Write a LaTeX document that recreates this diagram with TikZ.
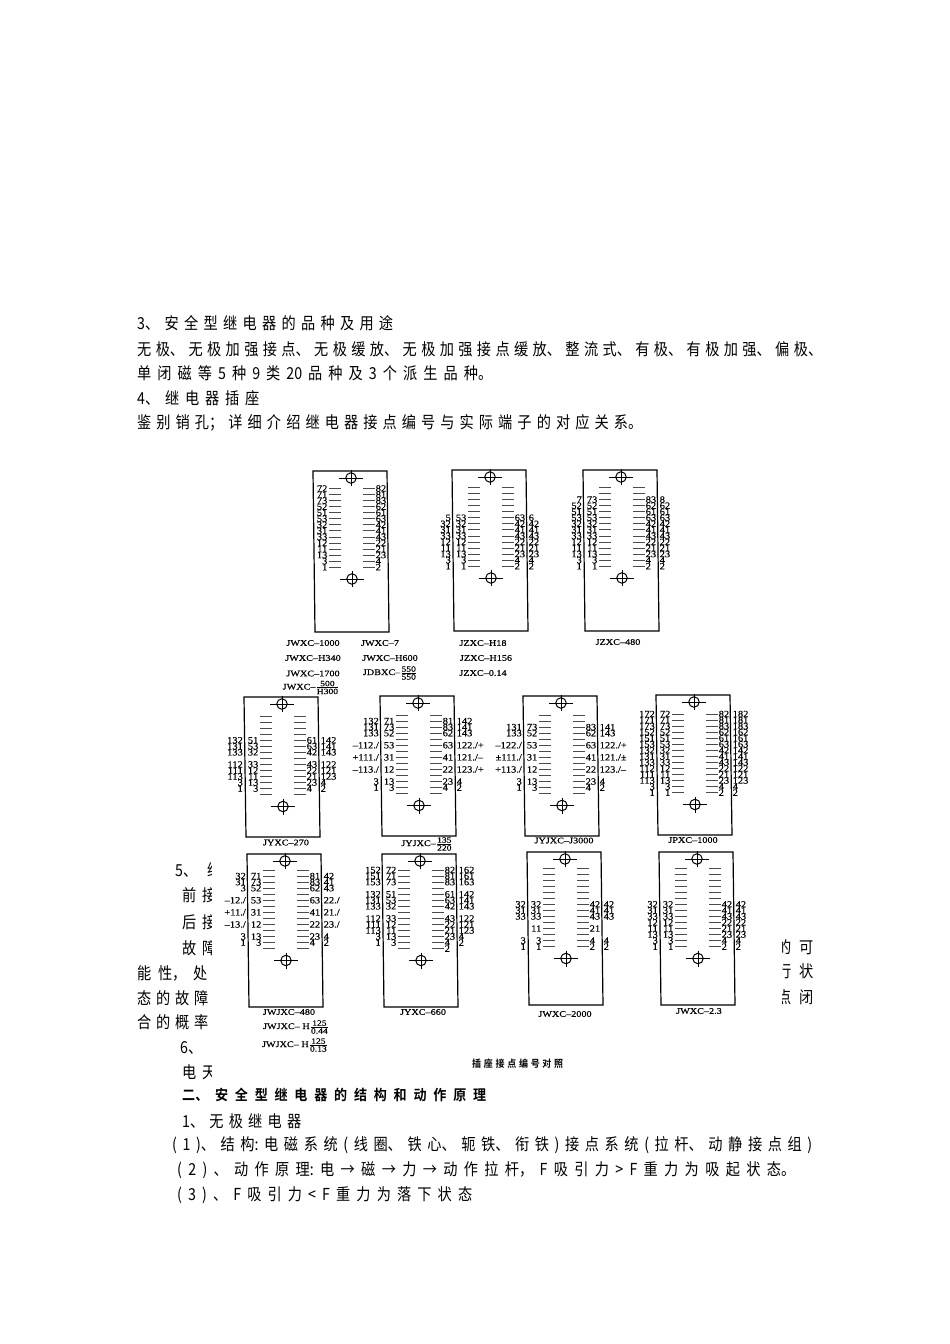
\documentclass[tikz,border=0pt]{standalone}
\usepackage{fontspec}
\usepackage{amsmath}
\setmainfont{Liberation Serif}
\newfontfamily\bodyfont[FakeStretch=0.86]{Noto Sans CJK SC}
\newfontfamily\boldfont[FakeStretch=0.9,BoldFont={Noto Sans CJK SC Bold}]{Noto Sans CJK SC}
\newfontfamily\capfont[FakeStretch=1.2,FakeBold=0.4]{Liberation Serif}
\newfontfamily\pinfont[FakeStretch=1.1,FakeBold=0.2]{Liberation Serif}
\usetikzlibrary{positioning}
\tikzset{%
  every pinhole/.style={
    circle,
    draw,
    line width=1pt,
    inner sep=0pt,
    minimum size=10.5pt
  },
  slot/.style={line width=0.75pt, black!70},
  cross/.style={line width=1pt},
  body line/.style={
    anchor=west,
    inner sep=0pt,
    font=\bodyfont\fontsize{16.5}{18}\selectfont
  },
  pin label/.style={
    inner sep=0pt,
    font=\pinfont\fontsize{9.5}{9.5}\selectfont
  },
  socket name/.style={
    inner sep=0pt,
    font=\capfont\fontsize{8.5}{9}\selectfont
  },
}
% one text line pressed out to the width it has on the page
\newcommand{\fitline}[2]{\parbox{#1pt}{\parfillskip=0pt \tolerance=10000 \hbadness=10000 \XeTeXlinebreaklocale "zh" \XeTeXlinebreakskip=0pt plus 1fil #2}}
\newcommand{\gp}{\hskip 0pt plus 1fil\relax}
\newcommand{\fracrow}[1]{\mbox{\capfont\fontsize{8}{8}\selectfont\rule[-0.8pt]{0pt}{6.8pt}#1}}
\newcommand{\sockfrac}[2]{${\fracrow{#1}\over\fracrow{#2}}$}
\def\rowtop{17.5}
\def\sockh{161}
% name, x, y, inner left, inner right, outer left, outer right
\newcommand{\socket}[7]{%
  \begin{scope}[shift={(#2,#3)}]
    \draw[line width=1.2pt] (0,0) -- (74,0) -- (76,\sockh) -- (2,\sockh) -- cycle;
    \node[every pinhole] (#1top) at (38,7) {};
    \node[every pinhole] (#1bot) at (39,\rowtop+90.5) {};
    \draw[cross] (#1top.center) +(-12,0) -- +(12,0) (#1top.center) +(0,-8) -- +(0,8);
    \draw[cross] (#1bot.center) +(-12,0) -- +(12,0) (#1bot.center) +(0,-8) -- +(0,8);
    \foreach \rw in {0,...,13} {
      \draw[slot] (16,\rowtop+6.05*\rw) -- (28,\rowtop+6.05*\rw);
      \draw[slot] (50,\rowtop+6.05*\rw) -- (62,\rowtop+6.05*\rw);
    }
    \foreach \rw/\lb in {#4} \node[pin label,anchor=east] (#1a\rw) at (14.5,\rowtop+6.05*\rw) {\lb};
    \foreach \rw/\lb in {#5} \node[pin label,anchor=west] (#1b\rw) at (62.5,\rowtop+6.05*\rw) {\lb};
    \foreach \rw/\lb in {#6} \node[pin label,anchor=east] (#1c\rw) at (-1,\rowtop+6.05*\rw) {\lb};
    \foreach \rw/\lb in {#7} \node[pin label,anchor=west] (#1d\rw) at (76.5,\rowtop+6.05*\rw) {\lb};
  \end{scope}
}

\begin{document}
\begin{tikzpicture}[x=1pt,y=-1pt]
\useasboundingbox (0,0) rectangle (950,1344);

% text above the figure
\node[body line] (ta) at (137,323) {\fitline{256}{3、\gp 安全型继电器的品种及用途}};
\node[body line] (tb) at (137,349) {\fitline{685}{无极、无极加强接点、无极缓放、无极加强接点缓放、整流式、有极、有极加强、偏极、}};
\node[body line] (tc) at (137,373) {\fitline{355}{单闭磁等\gp 5\gp 种\gp 9\gp 类\gp 20\gp 品种及\gp 3\gp 个派生品种。}};
\node[body line] (td) at (137,398) {\fitline{122}{4、\gp 继电器插座}};
\node[body line] (te) at (137,423) {\fitline{505}{鉴别销孔；详细介绍继电器接点编号与实际端子的对应关系。}};

% text showing at the sides of the figure
\begin{scope}
  \clip (130,855) rectangle (211,1085);
  \node[body line] (la) at (175,870) {\fitline{46}{5、\gp 继}};
  \node[body line] (lb) at (182,895) {\fitline{34}{前接}};
  \node[body line] (lc) at (182,922) {\fitline{34}{后接}};
  \node[body line] (ld) at (182,948) {\fitline{34}{故障}};
  \node[body line] (le) at (137,973) {\fitline{70}{能性，处}};
  \node[body line] (lf) at (137,998) {\fitline{71}{态的故障}};
  \node[body line] (lg) at (137,1022) {\fitline{71}{合的概率}};
  \node[body line] (lh) at (180,1048) {6、};
  \node[body line] (li) at (182,1072) {\fitline{34}{电天}};
\end{scope}
\begin{scope}
  \clip (782,930) rectangle (830,1020);
  \node[body line] (ra) at (777,947) {\fitline{36}{的可}};
  \node[body line] (rb) at (777,971) {\fitline{36}{行状}};
  \node[body line] (rc) at (777,997) {\fitline{36}{点闭}};
\end{scope}

% first row
\socket{sa}{313}{471}
  {0/72,1/71,2/73,3/52,4/51,5/53,6/32,7/31,8/33,9/12,10/11,11/13,12/3,13/1}
  {0/82,1/81,2/83,3/62,4/61,5/63,6/42,7/41,8/43,9/22,10/21,11/23,12/4,13/2}
  {}{}
\socket{sb}{452}{470}
  {5/53,6/32,7/31,8/33,9/12,10/11,11/13,12/3,13/1}
  {5/63,6/42,7/41,8/43,9/22,10/21,11/23,12/4,13/2}
  {5/5,6/32,7/31,8/33,9/12,10/11,11/13,12/3,13/1}
  {5/6,6/42,7/41,8/43,9/22,10/21,11/23,12/4,13/2}
\socket{sc}{583}{470}
  {2/73,3/52,4/51,5/53,6/32,7/31,8/33,9/12,10/11,11/13,12/3,13/1}
  {2/83,3/62,4/61,5/63,6/42,7/41,8/43,9/22,10/21,11/23,12/4,13/2}
  {2/7,3/52,4/51,5/53,6/32,7/31,8/33,9/12,10/11,11/13,12/3,13/1}
  {2/8,3/62,4/61,5/63,6/42,7/41,8/43,9/22,10/21,11/23,12/4,13/2}

% second row
\def\rowtop{19}
\def\sockh{140}
\socket{sd}{244}{697}
  {4/51,5/53,6/32,8/33,9/12,10/11,11/13,12/3}
  {4/61,5/63,6/42,8/43,9/22,10/21,11/23,12/4}
  {4/132,5/131,6/133,8/112,9/111,10/113,11/3,12/1}
  {4/142,5/141,6/143,8/122,9/121,10/123,11/4,12/2}
\socket{se}{380}{696}
  {1/71,2/73,3/52,5/53,7/31,9/12,11/13,12/3}
  {1/81,2/83,3/62,5/63,7/41,9/22,11/23,12/4}
  {1/132,2/131,3/133,5/{–112./},7/{+111./},9/{–113./},11/3,12/1}
  {1/142,2/141,3/143,5/{122./+},7/{121./–},9/{123./+},11/4,12/2}
\socket{sf}{523}{696}
  {2/73,3/52,5/53,7/31,9/12,11/13,12/3}
  {2/83,3/62,5/63,7/41,9/22,11/23,12/4}
  {2/131,3/133,5/{–122./},7/{±111./},9/{+113./},11/3,12/1}
  {2/141,3/143,5/{122./+},7/{121./±},9/{123./–},11/4,12/2}
\socket{sg}{656}{695}
  {0/72,1/71,2/73,3/52,4/51,5/53,6/32,7/31,8/33,9/12,10/11,11/13,12/3,13/1}
  {0/82,1/81,2/83,3/62,4/61,5/63,6/42,7/41,8/43,9/22,10/21,11/23,12/4,13/2}
  {0/172,1/171,2/173,3/152,4/151,5/153,6/132,7/131,8/133,9/112,10/111,11/113,12/3,13/1}
  {0/182,1/181,2/183,3/162,4/161,5/163,6/142,7/141,8/143,9/122,10/121,11/123,12/4,13/2}

% third row
\def\rowtop{16}
\def\sockh{153}
\socket{sh}{247}{854}
  {1/71,2/73,3/52,5/53,7/31,9/12,11/13,12/3}
  {1/81,2/83,3/62,5/63,7/41,9/22,11/23,12/4}
  {1/32,2/31,3/3,5/{–12./},7/{+11./},9/{–13./},11/3,12/1}
  {1/42,2/41,3/43,5/{22./},7/{21./},9/{23./},11/4,12/2}
\socket{si}{382}{854}
  {0/72,1/71,2/73,4/51,5/53,6/32,8/33,9/12,10/11,11/13,12/3}
  {0/82,1/81,2/83,4/61,5/63,6/42,8/43,9/22,10/21,11/23,12/4,13/2}
  {0/152,1/151,2/153,4/132,5/131,6/133,8/112,9/111,10/113,11/3,12/1}
  {0/162,1/161,2/163,4/142,5/141,6/143,8/122,9/121,10/123,11/4,12/2}
\socket{sj}{527}{852}
  {6/32,7/31,8/33,10/11,12/3,13/1}
  {6/42,7/41,8/43,10/21,12/4,13/2}
  {6/32,7/31,8/33,12/3,13/1}
  {6/42,7/41,8/43,12/4,13/2}
\socket{sk}{659}{852}
  {6/32,7/31,8/33,9/12,10/11,11/13,12/3,13/1}
  {6/42,7/41,8/43,9/22,10/21,11/23,12/4,13/2}
  {6/32,7/31,8/33,9/12,10/11,11/13,12/3,13/1}
  {6/42,7/41,8/43,9/22,10/21,11/23,12/4,13/2}

% names under the sockets
\node[socket name] (na) at (313,643) {JWXC–1000};
\node[socket name] (nb) at (380,643) {JWXC–7};
\node[socket name] (nc) at (313,658) {JWXC–H340};
\node[socket name] (nd) at (390,658) {JWXC–H600};
\node[socket name] (ne) at (313,673.5) {JWXC–1700};
\node[socket name] (nf) at (390,673) {JDBXC–\sockfrac{550}{550}};
\node[socket name] (ng) at (311,687.5) {JWXC–\sockfrac{500}{H300}};
\node[socket name] (nh) at (483,643) {JZXC–H18};
\node[socket name] (ni) at (486,658) {JZXC–H156};
\node[socket name] (nj) at (483,673) {JZXC–0.14};
\node[socket name] (nk) at (618,642) {JZXC–480};
\node[socket name] (nl) at (286,842.5) {JYXC–270};
\node[socket name] (nm) at (427,844) {JYJXC–\sockfrac{135}{220}};
\node[socket name] (nn) at (564,840.5) {JYJXC–J3000};
\node[socket name] (no) at (693,840) {JPXC–1000};
\node[socket name] (np) at (289,1012) {JWJXC–480};
\node[socket name] (nq) at (296,1027) {JWJXC– H\sockfrac{125}{0.44}};
\node[socket name] (nr) at (295,1045) {JWJXC– H\sockfrac{125}{0.13}};
\node[socket name] (ns) at (423,1012) {JYXC–660};
\node[socket name] (nt) at (565,1014) {JWXC–2000};
\node[socket name] (nu) at (699,1011) {JWXC–2.3};
\node[inner sep=0pt,anchor=west,font=\boldfont\bfseries\fontsize{10}{11}\selectfont] (fig) at (472,1064) {\fitline{91}{插座接点编号对照}};

% text below the figure
\node[body line,font=\boldfont\bfseries\fontsize{14.5}{17}\selectfont] (ua) at (182,1095) {\fitline{304}{二、\gp 安全型继电器的结构和动作原理}};
\node[body line] (ub) at (182,1121) {\fitline{119}{1、\gp 无极继电器}};
\node[body line] (uc) at (172,1145) {\fitline{640}{(\gp 1\gp)、结构:\gp 电磁系统(\gp 线圈、铁心、轭铁、衔铁\gp)接点系统(\gp 拉杆、动静接点组\gp)}};
\node[body line] (ud) at (177,1170) {\fitline{618}{(\gp 2\gp)\gp、动作原理:\gp 电→磁→力→动作拉杆，F\gp 吸引力\gp >\gp F\gp 重力为吸起状态。}};
\node[body line] (ue) at (177,1195) {\fitline{295}{(\gp 3\gp)\gp、F\gp 吸引力\gp <\gp F\gp 重力为落下状态}};
\end{tikzpicture}
\end{document}
